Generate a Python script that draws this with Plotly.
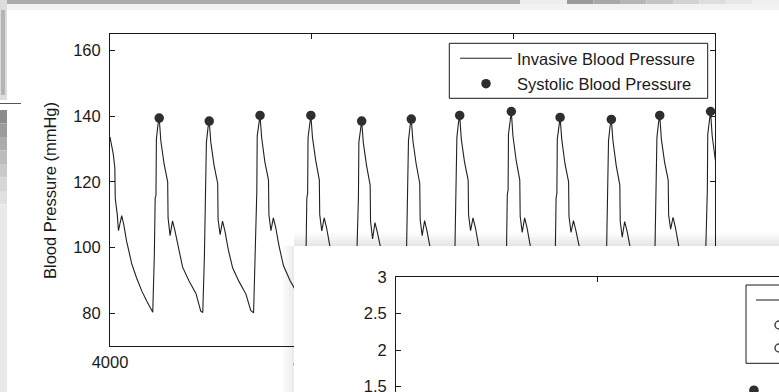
import plotly.graph_objects as go

# ---------------- data ----------------
# invasive blood pressure waveform: sample index and value (mmHg)
bp_x = [
    4000, 4008, 4012, 4013, 4018, 4021, 4029, 4034, 4041, 4054, 4066, 4079, 4091,
    4106, 4110, 4112, 4114, 4115, 4119, 4122, 4126, 4134, 4143, 4144, 4149, 4155, 4161, 4169, 4180, 4196, 4213, 4225,
    4230, 4234, 4236, 4238, 4239, 4243, 4246, 4250, 4258, 4267, 4268, 4273, 4279, 4285, 4293, 4304, 4320, 4337, 4349,
    4356, 4360, 4362, 4364, 4365, 4369, 4372, 4376, 4384, 4393, 4394, 4399, 4405, 4411, 4419, 4430, 4446, 4463, 4475,
    4482, 4486, 4488, 4490, 4491, 4495, 4498, 4502, 4510, 4519, 4520, 4525, 4531, 4537, 4545, 4556, 4572, 4589, 4601,
    4608, 4612, 4614, 4616, 4617, 4621, 4624, 4628, 4636, 4645, 4646, 4651, 4657, 4663, 4671, 4682, 4698, 4715, 4727,
    4731, 4735, 4737, 4739, 4740, 4744, 4747, 4751, 4759, 4768, 4769, 4774, 4780, 4786, 4794, 4805, 4819, 4835, 4846,
    4851, 4855, 4857, 4859, 4860, 4864, 4867, 4871, 4879, 4888, 4889, 4894, 4900, 4906, 4914, 4925, 4941, 4958, 4970,
    4979, 4983, 4985, 4987, 4988, 4992, 4995, 4999, 5007, 5016, 5017, 5022, 5028, 5034, 5042, 5053, 5069, 5086, 5097,
    5100, 5104, 5106, 5108, 5109, 5113, 5116, 5120, 5128, 5137, 5138, 5143, 5149, 5155, 5163, 5174, 5190, 5207, 5222,
    5227, 5231, 5233, 5235, 5236, 5240, 5243, 5247, 5255, 5264, 5265, 5270, 5276, 5282, 5290, 5301, 5316, 5332, 5343,
    5347, 5351, 5353, 5355, 5356, 5360, 5363, 5367, 5375, 5384, 5385, 5390, 5396, 5402, 5410, 5421, 5437, 5454, 5468,
    5473, 5477, 5479, 5481, 5482, 5486, 5489, 5493, 5501,
]
bp_y = [
    133.6, 128.5, 124.3, 115.0, 110.0, 105.1, 109.7, 107.0, 102.0, 95.0, 90.7, 86.7, 83.7,
    80.3, 98.0, 115.0, 116.0, 133.0, 137.5, 139.4, 132.5, 125.5, 120.0, 109.0, 103.6, 108.1, 105.1, 100.0, 94.0, 89.8, 86.0, 80.6,
    80.2, 97.0, 114.0, 115.5, 132.0, 136.5, 138.5, 132.0, 125.0, 119.5, 108.5, 103.9, 108.0, 105.0, 99.5, 93.8, 89.6, 85.8, 80.8,
    80.1, 98.5, 115.5, 117.0, 134.0, 138.0, 140.2, 133.5, 126.0, 120.5, 110.0, 105.1, 109.0, 106.0, 100.5, 94.5, 90.0, 86.3, 81.0,
    80.6, 98.0, 115.0, 116.5, 133.5, 138.0, 140.2, 133.5, 126.5, 120.5, 110.0, 105.0, 109.0, 106.0, 100.5, 94.5, 90.0, 86.0, 80.8,
    80.4, 97.5, 114.0, 115.5, 132.0, 136.5, 138.5, 132.0, 125.0, 119.0, 108.0, 102.6, 107.6, 104.5, 99.5, 93.5, 89.5, 85.8, 80.7,
    80.3, 97.5, 114.5, 116.0, 132.5, 137.0, 139.1, 132.5, 125.5, 119.5, 108.5, 103.6, 108.2, 105.0, 99.8, 94.0, 90.0, 86.0, 81.0,
    80.5, 98.0, 115.0, 116.5, 133.5, 138.0, 140.2, 133.0, 126.0, 120.5, 110.0, 105.1, 109.0, 106.0, 100.5, 94.5, 90.0, 86.2, 80.8,
    80.4, 98.5, 116.0, 117.5, 134.5, 139.0, 141.4, 134.0, 126.5, 120.5, 109.5, 104.6, 109.0, 106.0, 100.5, 94.5, 90.0, 86.0, 81.0,
    80.6, 98.0, 115.0, 116.5, 133.0, 137.5, 139.6, 133.0, 125.5, 120.0, 109.5, 104.6, 108.2, 105.2, 100.0, 94.0, 89.8, 86.0, 80.6,
    80.4, 97.5, 114.5, 116.0, 132.5, 137.0, 139.0, 132.5, 125.0, 119.0, 108.0, 103.1, 107.9, 105.0, 99.8, 94.0, 89.8, 85.8, 80.8,
    80.5, 98.0, 115.0, 116.5, 133.5, 138.0, 140.2, 133.0, 126.0, 120.5, 110.0, 105.6, 109.2, 106.0, 100.5, 94.5, 90.0, 86.2, 80.7,
    80.3, 98.5, 116.0, 117.5, 134.5, 139.0, 141.4, 134.0, 126.5,
]

# systolic peaks
sys_x = [4122, 4246, 4372, 4498, 4624, 4747, 4867, 4995, 5116, 5243, 5363, 5489]
sys_y = [139.4, 138.5, 140.2, 140.2, 138.5, 139.1, 140.2, 141.4, 139.6, 139.0, 140.2, 141.4]

# main axis ticks
x_ticks = [4000, 4500, 5000, 5500]
x_ticklabels = ["4000", "4500", "5000", "5500"]
y_ticks = [80, 100, 120, 140, 160]
y_title = "Blood Pressure (mmHg)"

# second (overlapping) window: one visible point and its axis ticks
sec_x = [4888]
sec_y = [1.45]
sec_y_ticks = [1.5, 2, 2.5, 3]
sec_y_ticklabels = ["1.5", "2", "2.5", "3"]

# ---------------- figure ----------------
W, H = 779, 392
def X(px):
    return px / W
def Y(py):
    return 1 - py / H

INK = "#1a1a1a"
FONT = "Liberation Sans, Arial, Helvetica, sans-serif"
FS = 16.5

fig = go.Figure()
fig.add_trace(go.Scatter(x=bp_x, y=bp_y, mode="lines", name="Invasive Blood Pressure",
                         legendgroup="a",
                         line=dict(color="#202020", width=1.1), xaxis="x", yaxis="y"))
fig.add_trace(go.Scatter(x=sys_x, y=sys_y, mode="markers", name="Systolic Blood Pressure",
                         legendgroup="b",
                         marker=dict(color="#2e2e2e", size=9.5), xaxis="x", yaxis="y"))
# blank subplot that acts as the white window on top
fig.add_trace(go.Scatter(x=[None], y=[None], mode="markers", showlegend=False,
                         hoverinfo="skip", xaxis="x2", yaxis="y2"))
fig.add_trace(go.Scatter(x=sec_x, y=sec_y, mode="markers", showlegend=False,
                         marker=dict(color="#2e2e2e", size=9.5), xaxis="x3", yaxis="y3"))

axis_style = dict(showline=True, linecolor=INK, linewidth=1, ticks="inside", ticklen=5,
                  tickcolor=INK, tickwidth=1, showgrid=False, zeroline=False,
                  automargin=False,
                  tickfont=dict(family=FONT, size=FS, color=INK))

shapes = []
def rect(x0, y0, x1, y1, color, opacity=1.0, line_color=None):
    shapes.append(dict(type="rect", xref="paper", yref="paper",
                       x0=X(x0), x1=X(x1), y0=Y(y1), y1=Y(y0),
                       fillcolor=color, opacity=opacity,
                       line=dict(width=0 if line_color is None else 1,
                                 color=line_color or color),
                       layer="above"))
def hline(x0, x1, y, color, width=1):
    shapes.append(dict(type="line", xref="paper", yref="paper",
                       x0=X(x0), x1=X(x1), y0=Y(y), y1=Y(y),
                       line=dict(color=color, width=width), layer="above"))

# background clutter of other windows (top strip, left strip)
rect(0, 0, 520, 4, "#ababab")
rect(520, 0, 567, 4, "#eeeeee")
grad = ["#9a9a9a", "#a8a8a8", "#b6b6b6", "#c4c4c4", "#d2d2d2", "#dedede", "#e8e8e8", "#efefef"]
gx = 567
for i, c in enumerate(grad):
    rect(gx + i * 26.5, 0, gx + (i + 1) * 26.5, 4, c)
rect(0, 4, 779, 10, "#f2f2f2")
rect(0, 0, 7, 100, "#dcdcdc")
rect(1, 10, 5, 95, "#b4b4b4")
hline(0, 21, 103.5, "#555555")
lg = ["#8c8c8c", "#9c9c9c", "#acacac", "#bcbcbc", "#cacaca", "#d6d6d6", "#e0e0e0"]
for i, c in enumerate(lg):
    rect(0, 110 + i * 13.5, 7, 110 + (i + 1) * 13.5, c)
rect(0, 205, 7, 392, "#e9e9e9")

# soft shadow around the overlapping window
for i in range(4):
    rect(294, 234 + i * 3, 779, 246, "#000000", opacity=0.025)
    rect(283 + i * 3, 246, 294, 392, "#000000", opacity=0.02)

# legend frame of the main plot
shapes.append(dict(type="rect", xref="paper", yref="paper", x0=X(449.3), x1=X(707.7),
                   y0=Y(98.3), y1=Y(43.3), fillcolor="white",
                   line=dict(color=INK, width=1), layer="above"))

# partial legend of the overlapping window (cut by the screen edge)
shapes.append(dict(type="rect", xref="paper", yref="paper", x0=X(746), x1=X(820),
                   y0=Y(363.3), y1=Y(285), fillcolor="white",
                   line=dict(color=INK, width=1), layer="above"))
hline(756, 790, 300, INK)
shapes.append(dict(type="circle", xref="paper", yref="paper", x0=X(775), x1=X(783),
                   y0=Y(329), y1=Y(321), line=dict(color="#444", width=1.5), layer="above"))
shapes.append(dict(type="circle", xref="paper", yref="paper", x0=X(775), x1=X(783),
                   y0=Y(352), y1=Y(344), line=dict(color="#444", width=1.5), layer="above"))

fig.update_layout(
    width=W, height=H, autosize=False,
    margin=dict(l=0, r=0, t=0, b=0, pad=0),
    paper_bgcolor="white", plot_bgcolor="white",
    font=dict(family=FONT, size=FS, color=INK),
    showlegend=True,
    legend=dict(x=X(455), y=Y(41), xanchor="left", yanchor="top",
                bgcolor="rgba(0,0,0,0)", borderwidth=0,
                itemwidth=52, font=dict(family=FONT, size=FS, color=INK),
                tracegroupgap=1),
    xaxis=dict(domain=[X(110), X(715)], range=[4000, 5500], anchor="y",
               tickmode="array", tickvals=x_ticks, ticktext=x_ticklabels,
               mirror="ticks", ticklabelstandoff=1, **axis_style),
    yaxis=dict(domain=[Y(346), Y(34)], range=[70, 165], anchor="x",
               tickmode="array", tickvals=y_ticks, mirror="ticks",
               ticklabelstandoff=5, **axis_style),
    xaxis2=dict(domain=[X(294), 1], range=[0, 1], anchor="y2", visible=False,
                automargin=False),
    yaxis2=dict(domain=[0, Y(246)], range=[0, 1], anchor="x2", visible=False,
                automargin=False),
    xaxis3=dict(domain=[X(396), 1], range=[4000, 4950.2], anchor="y3", side="top",
                tickmode="array", tickvals=[4000, 4500], showticklabels=False,
                **axis_style),
    yaxis3=dict(domain=[0, Y(277)], range=[1.425, 3], anchor="x3",
                tickmode="array", tickvals=sec_y_ticks, ticktext=sec_y_ticklabels,
                ticklabelstandoff=5, ticklabeloverflow="allow", **axis_style),
    annotations=[dict(text=y_title, xref="paper", yref="paper", x=X(50), y=Y(191),
                      xanchor="center", yanchor="middle", textangle=-90,
                      showarrow=False, font=dict(family=FONT, size=FS, color=INK))],
    shapes=shapes,
)

fig.write_html("out.html")
